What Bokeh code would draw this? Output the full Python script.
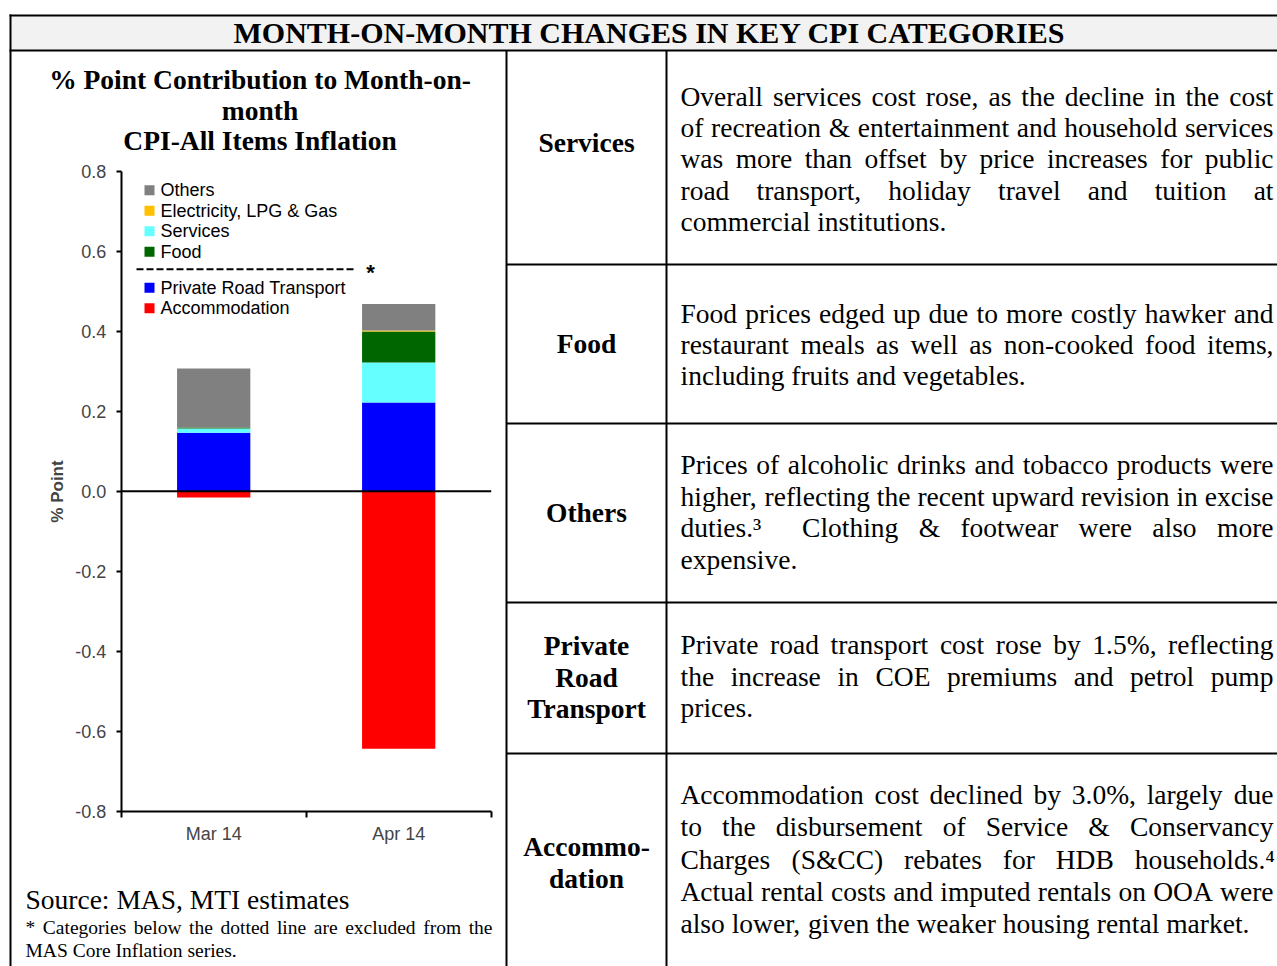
from bokeh.plotting import figure
from bokeh.models import Range1d, LinearAxis, FixedTicker, PrintfTickFormatter, ColumnDataSource
from bokeh.core.properties import value
from bokeh.embed import file_html
from bokeh.resources import INLINE

# ---------------- data ----------------
months = ["Mar 14", "Apr 14"]
accommodation = [-0.016, -0.644]
private_road_transport = [0.146, 0.222]
services = [0.011, 0.100]
food = [0.002, 0.077]
electricity = [0.000, 0.003]
others = [0.148, 0.066]

series_names = ["Accommodation", "Private Road Transport", "Services", "Food",
                "Electricity, LPG & Gas", "Others"]
series_values = [accommodation, private_road_transport, services, food, electricity, others]
series_colors = ["#FF0000", "#0000FF", "#66FFFF", "#006600", "#FFC000", "#808080"]
y_ticks = [-0.8, -0.6, -0.4, -0.2, 0.0, 0.2, 0.4, 0.6, 0.8]

legend_upper = ["Others", "Electricity, LPG & Gas", "Services", "Food"]
legend_lower = ["Private Road Transport", "Accommodation"]

main_title = "MONTH-ON-MONTH CHANGES IN KEY CPI CATEGORIES"
chart_title = ["% Point Contribution to Month-on-", "month", "CPI-All Items Inflation"]
source_text = "Source: MAS, MTI estimates"
footnote = ["* Categories below the dotted line are excluded from the",
            "MAS Core Inflation series."]

row_labels = [["Services"], ["Food"], ["Others"], ["Private", "Road", "Transport"],
              ["Accommo-", "dation"]]
row_texts = [
    ["Overall services cost rose, as the decline in the cost",
     "of recreation & entertainment and household services",
     "was more than offset by price increases for public",
     "road transport, holiday travel and tuition at",
     "commercial institutions."],
    ["Food prices edged up due to more costly hawker and",
     "restaurant meals as well as non-cooked food items,",
     "including fruits and vegetables."],
    ["Prices of alcoholic drinks and tobacco products were",
     "higher, reflecting the recent upward revision in excise",
     "duties.\u00b3  Clothing & footwear were also more",
     "expensive."],
    ["Private road transport cost rose by 1.5%, reflecting",
     "the increase in COE premiums and petrol pump",
     "prices."],
    ["Accommodation cost declined by 3.0%, largely due",
     "to the disbursement of Service & Conservancy",
     "Charges (S&CC) rebates for HDB households.\u2074",
     "Actual rental costs and imputed rentals on OOA were",
     "also lower, given the weaker housing rental market."],
]

# ---------------- page geometry (pixels) ----------------
W, H = 1277, 966
X_AXIS_PX = 120.7      # left edge of plot area
CAT_PX = 185.0         # pixels per category
ZERO_PX = 490.7        # y pixel of value 0
UNIT_PX = 400.0        # pixels per 1.0 of value

x_range = Range1d(-X_AXIS_PX / CAT_PX, (W - X_AXIS_PX) / CAT_PX)
y_range = Range1d(-(H - ZERO_PX) / UNIT_PX, ZERO_PX / UNIT_PX)

p = figure(width=W, height=H, x_range=x_range, y_range=y_range,
           output_backend="svg", toolbar_location=None,
           x_axis_location=None, y_axis_location=None,
           min_border=0, outline_line_color=None)
p.xgrid.visible = False
p.ygrid.visible = False
p.extra_x_ranges = {"px": Range1d(0, W)}
p.extra_y_ranges = {"px": Range1d(H, 0)}
PX = dict(x_range_name="px", y_range_name="px")

# ---------------- table frame ----------------
p.quad(left=[10], right=[W], top=[15], bottom=[50], fill_color="#f2f2f2",
       line_color=None, **PX)
row_lines = [264, 423, 602, 753]
segs = dict(x0=[9, 9, 10, 506, 666], y0=[15, 50, 14, 50, 50],
            x1=[W, W, 10, 506, 666], y1=[15, 50, H, H, H])
for yl in row_lines:
    segs["x0"].append(506); segs["x1"].append(W)
    segs["y0"].append(yl); segs["y1"].append(yl)
p.segment(source=ColumnDataSource(segs), x0="x0", y0="y0", x1="x1", y1="y1",
          line_color="black", line_width=2, **PX)

# ---------------- text helpers ----------------
TW = {' ': 250, '!': 333, '%': 833, '&': 778, '(': 333, ')': 333, '*': 500, ',': 250,
      '-': 333, '.': 250, ':': 278, '\u00b3': 300, '\u2074': 300,
      'A': 722, 'B': 667, 'C': 667, 'D': 722, 'E': 611, 'F': 556, 'G': 722, 'H': 722,
      'I': 333, 'J': 389, 'K': 722, 'L': 611, 'M': 889, 'N': 722, 'O': 722, 'P': 556,
      'Q': 722, 'R': 667, 'S': 556, 'T': 611, 'U': 722, 'V': 722, 'W': 944, 'X': 722,
      'Y': 722, 'Z': 611,
      'a': 444, 'b': 500, 'c': 444, 'd': 500, 'e': 444, 'f': 333, 'g': 500, 'h': 500,
      'i': 278, 'j': 278, 'k': 500, 'l': 278, 'm': 778, 'n': 500, 'o': 500, 'p': 500,
      'q': 500, 'r': 333, 's': 389, 't': 278, 'u': 500, 'v': 500, 'w': 722, 'x': 500,
      'y': 500, 'z': 444}


def tw(s, size):
    return sum(TW.get(c, 500) for c in s) / 1000.0 * size


def justify(line, x0, x1, size, last):
    parts = line.split(" ")
    words, gaps = [], []
    n = 0
    for part in parts:
        if part == "":
            n += 1
            continue
        if words:
            gaps.append(n)
        words.append(part)
        n = 1
    ww = sum(tw(w, size) for w in words)
    nsp = sum(gaps)
    if last or nsp == 0:
        g = 0.25 * size
    else:
        g = (x1 - x0 - ww) / nsp
    xs, x = [], x0
    for i, w in enumerate(words):
        xs.append(x)
        x += tw(w, size)
        if i < len(gaps):
            x += gaps[i] * g
    return words, xs


BASE_SHIFT = 0.36   # renderer places the alphabetic baseline ~0.36em lower


def add_text(xs, ys, texts, size, font="Liberation Serif", style="normal",
             align="left", shift=True):
    dy = BASE_SHIFT * size if shift else 0.0
    p.text(x=xs, y=[y - dy for y in ys], text=texts, text_font=value(font),
           text_font_size=value(f"{size}px"), text_font_style=style,
           text_align=align, text_baseline="alphabetic", text_color="black", **PX)


BODY = 27.5

# main title
add_text([649], [42.5], [main_title], 30, style="bold", align="center")

# chart title
add_text([259.5] * 3, [89.3, 119.8, 150.3], chart_title, BODY, style="bold", align="center")

# row labels
label_baselines = [[151.7], [353.3], [521.5], [655, 686.5, 717.5], [856, 888]]
lx, ly, lt = [], [], []
for labs, bls in zip(row_labels, label_baselines):
    for t, b in zip(labs, bls):
        lx.append(586); ly.append(b); lt.append(t)
add_text(lx, ly, lt, BODY, style="bold", align="center")

# justified body paragraphs
para_first = [105.5, 322.5, 474.0, 654.0, 804.0]
para_step = [31.3, 31.3, 31.5, 31.5, 32.3]
bx, by, bt = [], [], []
for lines, y0, st in zip(row_texts, para_first, para_step):
    for i, ln in enumerate(lines):
        words, xs = justify(ln, 680, 1273, BODY, i == len(lines) - 1)
        bx += xs; by += [y0 + i * st] * len(words); bt += words
add_text(bx, by, bt, BODY)

# source + footnote
add_text([25], [909], [source_text], BODY)
fx, fy, ft = [], [], []
for i, ln in enumerate(footnote):
    words, xs = justify(ln, 25, 492, 19.5, i == len(footnote) - 1)
    fx += xs; fy += [934 + i * 23] * len(words); ft += words
add_text(fx, fy, ft, 19.5)

# ---------------- stacked bars ----------------
xc = [i + 0.5 for i in range(len(months))]
pos_base = [0.0] * len(months)
neg_base = [0.0] * len(months)
for name, vals, col in zip(series_names, series_values, series_colors):
    bottoms, tops = [], []
    for i, v in enumerate(vals):
        if v >= 0:
            bottoms.append(pos_base[i]); tops.append(pos_base[i] + v); pos_base[i] += v
        else:
            bottoms.append(neg_base[i]); tops.append(neg_base[i] + v); neg_base[i] += v
    src = ColumnDataSource(dict(x=xc, top=tops, bottom=bottoms))
    p.vbar(x="x", top="top", bottom="bottom", width=0.396, source=src,
           fill_color=col, line_color=None)

# zero line across the category span
p.segment(x0=[0], y0=[0], x1=[len(months)], y1=[0], line_color="black", line_width=2)

# ---------------- axes ----------------
yaxis = LinearAxis(fixed_location=0, bounds=(y_ticks[0], y_ticks[-1]),
                   ticker=FixedTicker(ticks=y_ticks, minor_ticks=[]),
                   formatter=PrintfTickFormatter(format="%.1f"),
                   axis_label="% Point")
yaxis.axis_line_width = 2
yaxis.major_tick_line_width = 2
yaxis.major_tick_out = 5
yaxis.major_tick_in = 0
yaxis.minor_tick_out = 0
yaxis.major_label_text_font = "Liberation Sans"
yaxis.major_label_text_font_size = "18px"
yaxis.major_label_standoff = 10
yaxis.axis_label_text_font = "Liberation Sans"
yaxis.axis_label_text_font_size = "17px"
yaxis.axis_label_text_font_style = "bold"
yaxis.axis_label_standoff = 5
p.add_layout(yaxis, "left")

xaxis = LinearAxis(fixed_location=y_ticks[0], bounds=(0, len(months)),
                   ticker=FixedTicker(ticks=xc, minor_ticks=list(range(len(months) + 1))),
                   major_label_overrides={x: m for x, m in zip(xc, months)})
xaxis.axis_line_width = 2
xaxis.major_tick_out = 0
xaxis.major_tick_in = 0
xaxis.minor_tick_out = 6
xaxis.minor_tick_in = 0
xaxis.minor_tick_line_width = 2
xaxis.major_label_text_font = "Liberation Sans"
xaxis.major_label_text_font_size = "18px"
xaxis.major_label_standoff = 7
p.add_layout(xaxis, "below")

# ---------------- legend ----------------
color_of = dict(zip(series_names, series_colors))
leg_y_upper = [189.7, 210.2, 230.7, 251.2]
leg_y_lower = [287.3, 307.8]
leg_names = legend_upper + legend_lower
leg_y = leg_y_upper + leg_y_lower
p.rect(x=[149] * len(leg_names), y=leg_y, width=10, height=10,
       fill_color=[color_of[n] for n in leg_names], line_color=None, **PX)
add_text([160] * len(leg_names), [y + 6.3 for y in leg_y], leg_names, 18,
         font="Liberation Sans")
p.segment(x0=[136], y0=[268.7], x1=[353], y1=[268.7], line_color="black",
          line_width=2, line_dash="7 3", **PX)
add_text([370], [272], ["*"], 22, font="Liberation Sans", style="bold",
         align="center", shift=False)

open("out.html", "w").write(file_html(p, INLINE))
